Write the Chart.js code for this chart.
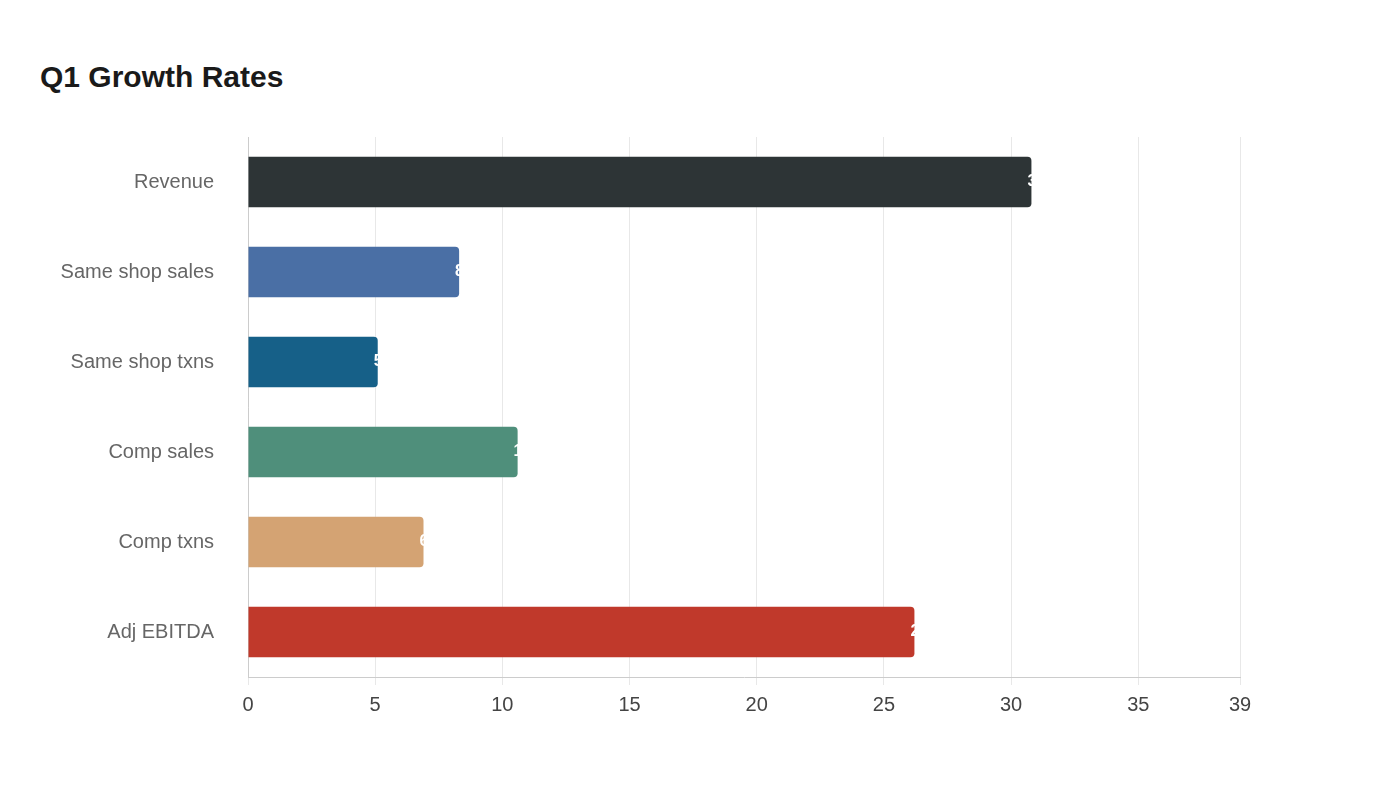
<!DOCTYPE html>
<html><head><meta charset="utf-8">
<script src="https://cdn.jsdelivr.net/npm/chart.js@4/dist/chart.umd.min.js"></script>
<style>html,body{margin:0;background:#fff;}#w{width:1400px;height:800px;position:relative;}
h1{position:absolute;left:40px;top:60px;margin:0;font:bold 30px "Liberation Sans",Arial,sans-serif;color:#1a1a1a;}
#c{position:absolute;left:0;top:0;}</style></head>
<body><div id="w"><h1>Q1 Growth Rates</h1><canvas id="c" width="1400" height="800"></canvas></div>
<script>
const categories=["Revenue","Same shop sales","Same shop txns","Comp sales","Comp txns","Adj EBITDA"];
const values=[30.8,8.3,5.1,10.6,6.9,26.2];
const colors=["#2d3436","#4a6fa5","#166088","#4f8f7b","#d4a373","#c0392b"];
const endLabels={id:'endLabels',afterDatasetsDraw(ch){const ctx=ch.ctx;const m=ch.getDatasetMeta(0);ctx.save();ctx.fillStyle='#fff';ctx.font='bold 16px "Liberation Sans",Arial';ctx.textAlign='left';ctx.textBaseline='middle';
m.data.forEach((b,i)=>{ctx.fillText(values[i].toFixed(1),b.x-4,b.y);});ctx.restore();}};
new Chart(document.getElementById('c'),{type:'bar',data:{labels:categories,datasets:[{data:values,backgroundColor:colors,borderRadius:4,borderSkipped:'start',barPercentage:0.56,categoryPercentage:1}]},
options:{indexAxis:'y',responsive:false,animation:false,layout:{padding:{left:40,right:160,top:137,bottom:75}},
plugins:{legend:{display:false},tooltip:{enabled:false}},
scales:{x:{min:0,max:39,ticks:{stepSize:5,color:'#444',font:{size:20,family:'"Liberation Sans",Arial'},padding:8},grid:{color:'#e8e8e8',tickLength:8},border:{color:'#ccc'}},
y:{afterFit(s){s.width=208;},ticks:{color:'#666',font:{size:20,family:'"Liberation Sans",Arial'},padding:26},grid:{display:false},border:{color:'#ccc'}}}},plugins:[endLabels]});
</script></body></html>
